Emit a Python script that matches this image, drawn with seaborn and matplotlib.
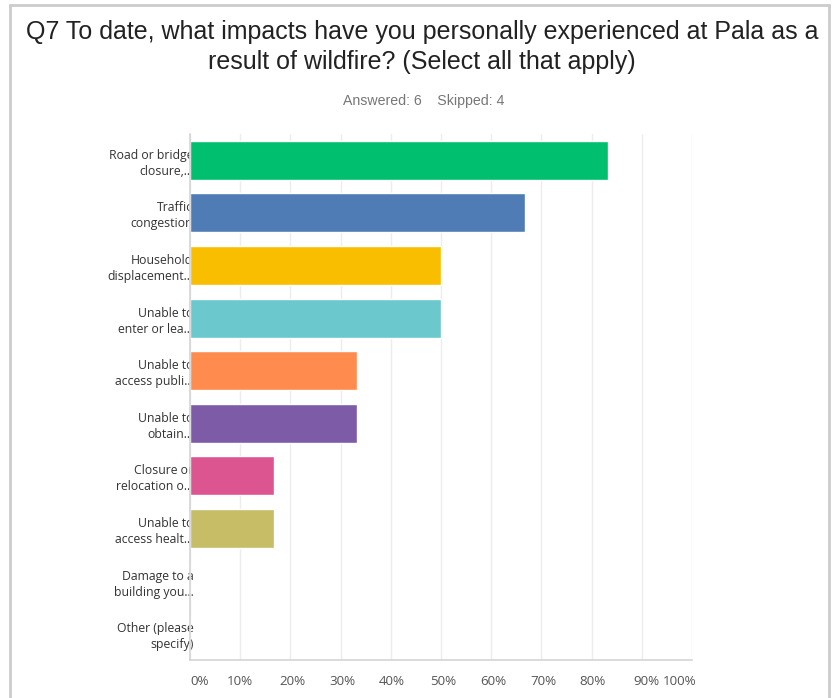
import matplotlib
matplotlib.use("Agg")
import matplotlib.pyplot as plt
import matplotlib.transforms as mtransforms
import seaborn as sns
import pandas as pd
from matplotlib.ticker import FixedLocator

# Survey answer choices (truncated as shown) and share of respondents (%)
choices = [
    "Road or bridge\nclosure,...",
    "Traffic\ncongestion",
    "Household\ndisplacement...",
    "Unable to\nenter or lea...",
    "Unable to\naccess publi...",
    "Unable to\nobtain...",
    "Closure or\nrelocation o...",
    "Unable to\naccess healt...",
    "Damage to a\nbuilding you...",
    "Other (please\nspecify)",
]
percent = [83.33, 66.67, 50.0, 50.0, 33.33, 33.33, 16.67, 16.67, 0.0, 0.0]
bar_colors = ["#00BF6F", "#507CB6", "#F9BE00", "#6BC8CD", "#FF8B4F",
              "#7D5BA6", "#DD5590", "#C6BD66", "#A0A0A0", "#A0A0A0"]
tick_values = [0, 10, 20, 30, 40, 50, 60, 70, 80, 90, 100]
tick_labels = [f"{v}%" for v in tick_values]

title = "Q7 To date, what impacts have you personally experienced at Pala as a\nresult of wildfire? (Select all that apply)"
subtitle = "Answered: 6    Skipped: 4"

df = pd.DataFrame({"choice": choices, "percent": percent})

sns.set_theme(style="white")
plt.rcParams["font.family"] = ["Open Sans", "DejaVu Sans"]

W, H = 834, 698
fig = plt.figure(figsize=(W / 100, H / 100), dpi=100)
fig.patch.set_facecolor("white")

# Outer card frame (open at the bottom)
frame_kw = dict(color="#CCCCCC", lw=2, transform=fig.transFigure, clip_on=False)
x0, x1, yt = 9.5 / W, 828.5 / W, 1 - 4.5 / H
fig.add_artist(plt.Line2D([x0, x0], [0, yt], **frame_kw))
fig.add_artist(plt.Line2D([x1, x1], [0, yt], **frame_kw))
fig.add_artist(plt.Line2D([x0, x1], [yt, yt], **frame_kw))

left, right, top, bottom = 190, 692, 134, 660
ax = fig.add_axes([left / W, 1 - bottom / H, (right - left) / W, (bottom - top) / H])

sns.barplot(data=df, x="percent", y="choice", hue="choice", palette=bar_colors,
            legend=False, orient="h", width=0.74, saturation=1, ax=ax, zorder=3)

ax.set_xlim(0, 100)
ax.set_ylim(len(choices) - 0.5, -0.5)
ax.xaxis.set_major_locator(FixedLocator(tick_values))
ax.set_xticklabels(tick_labels)
ax.set_xlabel("")
ax.set_ylabel("")

ax.grid(axis="x", color="#EDEDED", lw=1, zorder=0)
ax.grid(axis="y", visible=False)
for side in ["top", "right"]:
    ax.spines[side].set_visible(False)
ax.spines["left"].set_color("#D4D4D4")
ax.spines["bottom"].set_color("#D4D4D4")
ax.spines["left"].set_linewidth(1.2)
ax.spines["bottom"].set_linewidth(1.2)
ax.spines["left"].set_zorder(4)

ax.tick_params(axis="x", length=0, pad=11, labelsize=9.6, labelcolor="#555555")
ax.tick_params(axis="y", length=0, pad=-2.5, labelsize=8.8, labelcolor="#333333")
for lab in ax.get_yticklabels():
    lab.set_linespacing(1.3)
    lab.set_zorder(5)

# Keep the end labels inside the axis span, as in a compact web layout
nudge_px = [10, 0, 2, 2, 1, 2, 2, 2, 1, 5, -12]
for lab, dx in zip(ax.get_xticklabels(), nudge_px):
    lab.set_transform(lab.get_transform() +
                      mtransforms.ScaledTranslation(dx / 100, 0, fig.dpi_scale_trans))

fig.text(422 / W, 1 - 47 / H, title, ha="center", va="center",
         fontsize=18.0, family=["Liberation Sans", "DejaVu Sans"],
         color="#222222", linespacing=1.32)
fig.text(424 / W, 1 - 101 / H, subtitle, ha="center", va="center",
         fontsize=10.2, family=["Liberation Sans", "DejaVu Sans"], color="#777777")

fig.savefig("out.png", dpi=100)
